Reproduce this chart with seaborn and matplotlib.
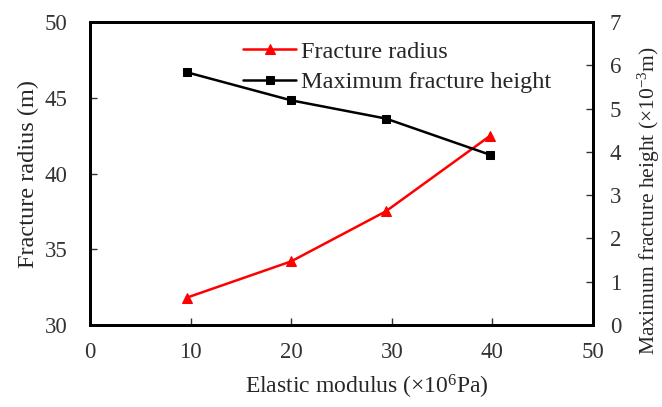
import matplotlib
matplotlib.use("Agg")
import matplotlib.pyplot as plt
import seaborn as sns
import pandas as pd

modulus = [9.6, 20.0, 29.4, 39.8]
fracture_radius = [31.8, 34.2, 37.5, 42.5]
modulus_h = [9.6, 20.0, 29.4, 39.8]
max_height = [5.84, 5.19, 4.77, 3.93]

sns.set_theme(style="ticks")
plt.rcParams['font.family'] = ['Liberation Serif', 'DejaVu Serif']
plt.rcParams['mathtext.fontset'] = 'custom'
plt.rcParams['mathtext.rm'] = 'Liberation Serif'
plt.rcParams['mathtext.it'] = 'Liberation Serif:italic'

df_r = pd.DataFrame({"x": modulus, "y": fracture_radius})
df_h = pd.DataFrame({"x": modulus_h, "y": max_height})

W, H = 662, 407
fig = plt.figure(figsize=(W/100, H/100), dpi=100)
ax = fig.add_axes([90/W, 82/H, 503/W, 303/H])
ax2 = ax.twinx()

sns.lineplot(data=df_r, x="x", y="y", ax=ax, color="#ff0000", marker="^",
             markersize=7, markeredgecolor="#ff0000", linewidth=1.8, label="Fracture radius", legend=False)
sns.lineplot(data=df_h, x="x", y="y", ax=ax2, color="black", marker="s",
             markersize=5.5, markeredgecolor="black", linewidth=1.8, label="Maximum fracture height", legend=False)

ax.set_xlim(0, 50)
ax.set_ylim(30, 50)
ax2.set_ylim(0, 7)
ax.set_xticks(range(0, 51, 10))
ax.set_yticks(range(30, 51, 5))
ax2.set_yticks(range(0, 8, 1))

fs = 16.5
tc = '#333333'
ax.tick_params(axis='both', direction='in', labelsize=fs, length=5, width=1, colors=tc, labelcolor=tc)
ax2.tick_params(axis='y', direction='in', labelsize=fs, length=5, width=1, colors=tc, labelcolor=tc, pad=12)
ax.tick_params(axis='x', pad=12)
ax.tick_params(axis='y', pad=16)

ax.set_xlabel(r"Elastic modulus ($\times$10$^{6}$Pa)", fontsize=17, color='#262626')
ax.xaxis.set_label_coords((367-90)/503, -(387-325)/303)
ax.xaxis.label.set_va('center')
ax.set_ylabel("Fracture radius (m)", fontsize=17.5, color='#262626')
ax.yaxis.set_label_coords(-(90-28)/503, 0.5)
ax.yaxis.label.set_va('center')
ax2.set_ylabel(r"Maximum fracture height ($\times$10$^{\mathrm{-3}}$m)", fontsize=15.5, color='#262626')
ax2.yaxis.set_label_coords((649-90)/503, (325-201)/303)
ax2.yaxis.label.set_va('center')

for a in (ax, ax2):
    for s in a.spines.values():
        s.set_linewidth(2.0)
        s.set_color('black')

h1, l1 = ax.get_legend_handles_labels()
h2, l2 = ax2.get_legend_handles_labels()
ax.legend(h1 + h2, l1 + l2, loc='upper left', bbox_to_anchor=(136/503, 0.995), frameon=False,
          fontsize=17.5, handlelength=2.2, handletextpad=0.2, labelspacing=0.35, borderaxespad=0.3)

fig.savefig("out.png", dpi=100)
